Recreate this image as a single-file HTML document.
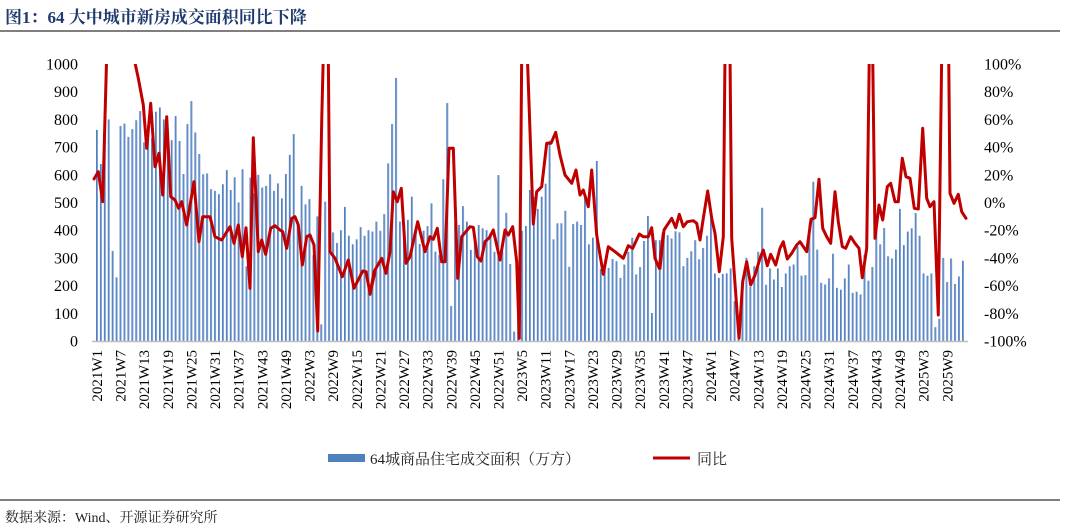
<!DOCTYPE html>
<html><head><meta charset="utf-8">
<style>
body{margin:0;background:#fff;width:1066px;height:529px;overflow:hidden;font-family:"Liberation Serif","Noto Serif CJK SC",serif;}
svg{position:absolute;left:0;top:0}
</style></head><body>
<svg id="s" width="1066" height="529" xmlns="http://www.w3.org/2000/svg">
<text x="5" y="23" font-size="17" font-weight="bold" fill="#1f3a6e" font-family="Liberation Serif, Noto Serif CJK SC, serif">图1：64 大中城市新房成交面积同比下降</text>
<line x1="0" y1="31" x2="1060" y2="31" stroke="#333" stroke-width="1.2"/>
<line x1="0" y1="500" x2="1060" y2="500" stroke="#333" stroke-width="1.2"/>
<text x="5" y="522" font-size="14" fill="#222" font-family="Liberation Serif, Noto Serif CJK SC, serif">数据来源：Wind、开源证券研究所</text>
<rect x="328" y="454" width="37" height="8" fill="#4f81bd"/>
<text x="370" y="464" font-size="15" fill="#222" font-family="Liberation Serif, Noto Serif CJK SC, serif">64城商品住宅成交面积（万方）</text>
<line x1="653" y1="458" x2="690" y2="458" stroke="#c00000" stroke-width="3"/>
<text x="697" y="464" font-size="15" fill="#222" font-family="Liberation Serif, Noto Serif CJK SC, serif">同比</text>
<defs><clipPath id="c"><rect x="85" y="64" width="890" height="280"/></clipPath>
<linearGradient id="g" x1="0" x2="1"><stop offset="0" stop-color="#3d6fb5"/><stop offset="1" stop-color="#8fb0dc"/></linearGradient></defs>
<g id="bars"></g>
<line x1="92" y1="341.5" x2="968" y2="341.5" stroke="#bfbfbf" stroke-width="1.5"/>
<g id="ln" clip-path="url(#c)"></g>
<g id="lab" font-size="16" fill="#000"></g>
</svg>
<script>
var NS="http://www.w3.org/2000/svg";
function el(t,a,p,txt){var e=document.createElementNS(NS,t);for(var k in a)e.setAttribute(k,a[k]);if(txt!=null)e.textContent=txt;p.appendChild(e);return e;}
var bars=[762,639,756,800,325,230,776,785,737,765,797,830,717,780,732,828,843,800,725,725,812,722,603,783,866,753,675,602,605,548,542,530,566,617,545,591,500,620,270,590,533,600,554,560,602,542,569,515,603,672,747,420,560,493,512,310,450,60,503,480,392,354,400,484,380,349,367,411,380,400,395,431,
398,458,641,783,950,431,413,437,521,395,350,398,415,497,323,310,584,859,126,425,419,487,431,329,380,419,407,400,389,322,599,323,463,278,34,150,398,415,545,521,477,521,568,723,367,425,425,470,268,422,431,419,527,349,373,650,260,257,264,296,288,228,276,322,373,240,267,361,451,101,364,364,395,
382,370,396,392,270,300,324,364,295,336,380,440,244,228,242,244,262,144,5,195,300,195,270,322,481,203,262,222,262,195,244,270,276,341,236,238,420,575,330,210,204,226,315,192,185,226,276,174,178,168,311,218,267,420,349,408,306,298,330,477,346,395,407,462,380,244,236,244,50,80,300,213,298,206,233,290];
var N=bars.length, x0=97, dx=(963-97)/(N-1);
var bg=document.getElementById('bars');
for(var i=0;i<N;i++){var h=bars[i]*0.277;el('rect',{x:(x0+i*dx-1).toFixed(2),y:(341-h).toFixed(2),width:2,height:h.toFixed(2),fill:'url(#g)'},bg);}
var z1=[[42,372],[55,350],[68,440],[80,0],[85,-300],[150,-300],[160,0],[175,70],[190,150],[200,280],[212,145],[225,335],[237,295],[248,420],[260,185],[272,425],[285,435],[296,460],[305,440],[320,510],[342,380],[357,560],[368,485],[390,485],[405,545],[425,555],[450,515],[462,565],[475,510],[487,605],[498,518],[510,700],[520,248],[535,590],[545,555],[557,598],[572,520],[585,512],[600,525],[608,530],[620,580],[635,490],[645,485],[655,510],[667,630],[680,545],[690,540],[702,570],[713,828],[725,200],[730,0],[735,-300],[743,-300],[745,0],[750,590],[765,610],[787,665],[805,615],[822,700],[848,648],[858,650],[870,715],[885,650]];
var z2=[[0,718],[12,650],[35,610],[48,655],[60,590],[70,410],[82,440],[94,400],[108,625],[120,605],[143,500],[165,590],[180,545],[190,553],[202,520],[215,620],[225,620],[237,280],[250,280],[263,670],[275,545],[300,515],[310,517],[322,605],[333,618],[345,560],[358,548],[370,525],[390,615],[405,525],[415,540],[428,515],[440,620],[448,850],[455,0],[458,-300],[468,-300],[472,0],[490,507],[500,410],[515,395],[530,265],[543,265],[557,232],[570,300],[585,360],[605,385],[618,345],[630,420],[640,405],[655,455],[665,345],[680,540],[700,658],[715,575],[735,590],[760,610],[775,572],[788,580],[808,537],[820,545],[835,545],[845,518],[855,610],[868,640],[880,535]];
var z3=[[0,640],[12,525],[22,510],[35,490],[47,518],[58,478],[70,515],[82,500],[100,497],[110,505],[120,555],[130,490],[143,408],[155,490],[165,535],[178,650],[190,545],[195,0],[198,-300],[207,-300],[210,0],[215,550],[237,850],[248,680],[260,620],[272,690],[285,660],[300,610],[310,585],[322,632],[332,598],[347,630],[360,580],[370,560],[382,612],[395,595],[410,570],[420,560],[440,590],[453,493],[465,488],[477,373],[488,520],[500,545],[512,565],[525,410],[535,500],[547,575],[557,580],[572,545],[585,565],[597,580],[607,668],[620,580],[628,0],[630,-300],[636,-300],[638,0],[645,550],[657,450],[668,495],[682,395],[692,385],[705,440],[715,440],[727,310],[738,365],[750,370],[763,460],[775,462],[788,220],[800,430],[810,455],[822,440],[835,780],[845,0],[848,-300],[864,-300],[866,0],[870,415],[882,445],[895,418],[905,470],[918,490]];
var pts=[];
function add(z,X0){z.forEach(function(p){pts.push((X0+p[0]/3).toFixed(1)+','+(55+p[1]/3).toFixed(1));});}
add(z1,80);add(z2,370);add(z3,660);
el('polyline',{points:pts.join(' '),fill:'none',stroke:'#c00000','stroke-width':3,'stroke-linejoin':'round','stroke-linecap':'round'},document.getElementById('ln'));
var lab=document.getElementById('lab');
for(var v=0;v<=1000;v+=100){var y=341-v*0.277;el('text',{x:78,y:(y+5.5).toFixed(1),'text-anchor':'end'},lab,String(v));}
for(var p=100;p>=-100;p-=20){var y=202.5-p*1.385;el('text',{x:984,y:(y+5.5).toFixed(1)},lab,p+'%');}
var yr=2021,w=1;
for(var i=0;i<N;i+=6){var x=x0+i*dx;el('text',{x:0,y:0,'font-size':15,'text-anchor':'end',transform:'translate('+(x+5).toFixed(1)+',350) rotate(-90)'},lab,yr+'W'+w);w+=6;if(w>52){w-=52;yr++;}}
</script>
</body></html>
